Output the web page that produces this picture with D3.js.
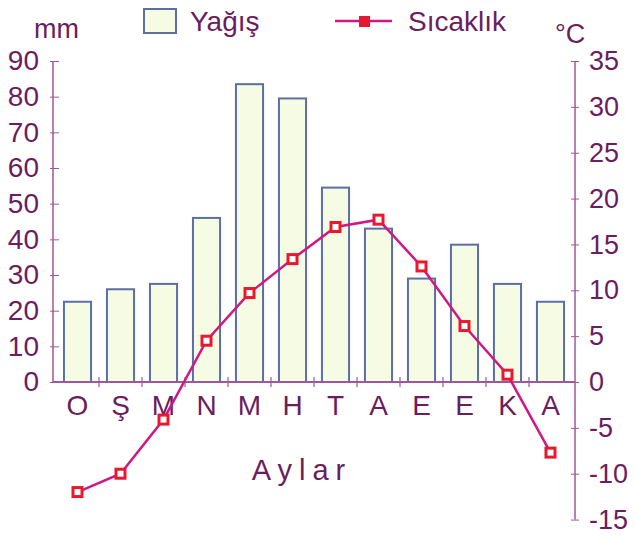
<!DOCTYPE html>
<html>
<head>
<meta charset="utf-8">
<script src="https://cdn.jsdelivr.net/npm/d3@7"></script>
<style>
  body { margin: 0; background: #fff; }
  text { font-family: "Liberation Sans", Arial, sans-serif; fill: #6b1d60; }
</style>
</head>
<body>
<svg id="chart" width="635" height="538"></svg>
<script>
var months = ["O", "Ş", "M", "N", "M", "H", "T", "A", "E", "E", "K", "A"];
var precipitation = [22.5, 26, 27.5, 46, 83.5, 79.5, 54.5, 43, 29, 38.5, 27.5, 22.5];
var temperature = [-12, -10, -4.1, 4.5, 9.7, 13.4, 16.9, 17.7, 12.6, 6.1, 0.8, -7.7];
var mmTicks = [0, 10, 20, 30, 40, 50, 60, 70, 80, 90];
var tempTicks = [-15, -10, -5, 0, 5, 10, 15, 20, 25, 30, 35];

var axis_color = "#a0579a";
var bar_fill = "#f6fce4";
var bar_stroke = "#5b6fa6";
var line_color = "#cf1883";
var marker_color = "#e8182e";

var svg = d3.select("#chart");
var left = 53, right = 575, zero_y = 382, top_y = 61;

var x = d3.scaleBand().domain(d3.range(months.length))
    .range([left, right]).paddingInner(0.37).paddingOuter(0.255);
var yMM = d3.scaleLinear().domain([0, 90]).range([zero_y, top_y]);
var yT = d3.scaleLinear().domain([0, 35]).range([zero_y, top_y]);

// bars
svg.selectAll(".bar")
    .data(precipitation)
    .enter().append("rect")
    .attr("class", "bar")
    .attr("x", function(d, i) { return x(i); })
    .attr("y", function(d) { return yMM(d); })
    .attr("width", x.bandwidth())
    .attr("height", function(d) { return zero_y - yMM(d); })
    .attr("fill", bar_fill)
    .attr("stroke", bar_stroke)
    .attr("stroke-width", 2);

// left axis
var gl = svg.append("g").attr("transform", "translate(" + left + ",0)")
    .call(d3.axisLeft(yMM).tickValues(mmTicks).tickSize(4).tickPadding(10).tickFormat(String));
gl.select(".domain").attr("stroke", axis_color).attr("stroke-width", 1.5).attr("d", "M0," + top_y + "V" + zero_y);
gl.selectAll(".tick line").attr("stroke", axis_color).attr("x1", -3).attr("x2", 6);
gl.selectAll(".tick text").style("font-size", "28px").attr("fill", "#6b1d60");

// right axis
var gr = svg.append("g").attr("transform", "translate(" + right + ",0)")
    .call(d3.axisRight(yT).tickValues(tempTicks).tickSize(4).tickPadding(10).tickFormat(String));
gr.select(".domain").attr("stroke", axis_color).attr("stroke-width", 1.5).attr("d", "M0," + yT(-15) + "V" + top_y);
gr.selectAll(".tick line").attr("stroke", axis_color).attr("x1", -4).attr("x2", 4);
gr.selectAll(".tick text").style("font-size", "27px").attr("fill", "#6b1d60");

// x axis line with ticks between months
svg.append("line")
    .attr("x1", left).attr("x2", right)
    .attr("y1", zero_y).attr("y2", zero_y)
    .attr("stroke", axis_color).attr("stroke-width", 2);
svg.selectAll(".xtick")
    .data(d3.range(1, months.length))
    .enter().append("line")
    .attr("class", "xtick")
    .attr("x1", function(d) { return x(d) - x.step() * x.paddingInner() / 2; })
    .attr("x2", function(d) { return x(d) - x.step() * x.paddingInner() / 2; })
    .attr("y1", zero_y - 5).attr("y2", zero_y + 5)
    .attr("stroke", axis_color).attr("stroke-width", 1.2);

// month labels
svg.selectAll(".month")
    .data(months)
    .enter().append("text")
    .attr("class", "month")
    .attr("x", function(d, i) { return x(i) + x.bandwidth() / 2; })
    .attr("y", 415)
    .attr("text-anchor", "middle")
    .style("font-size", "28px")
    .text(function(d) { return d; });

svg.append("text").attr("x", 302).attr("y", 480).attr("text-anchor", "middle")
    .style("font-size", "29px").style("letter-spacing", "7px").text("Aylar");

// temperature line
var line = d3.line()
    .x(function(d, i) { return x(i) + x.bandwidth() / 2; })
    .y(function(d) { return yT(d); });
svg.append("path").datum(temperature)
    .attr("d", line).attr("fill", "none")
    .attr("stroke", line_color).attr("stroke-width", 2.5);

svg.selectAll(".marker")
    .data(temperature)
    .enter().append("rect")
    .attr("class", "marker")
    .attr("x", function(d, i) { return x(i) + x.bandwidth() / 2 - 4.5; })
    .attr("y", function(d) { return yT(d) - 4.5; })
    .attr("width", 9).attr("height", 9)
    .attr("fill", "#fff").attr("stroke", marker_color).attr("stroke-width", 3);

// unit labels
svg.append("text").attr("x", 34).attr("y", 38).style("font-size", "27px").text("mm");
svg.append("text").attr("x", 555).attr("y", 43).style("font-size", "27px").text("°C");

// legend
svg.append("rect").attr("x", 144).attr("y", 9).attr("width", 32).attr("height", 24)
    .attr("fill", bar_fill).attr("stroke", bar_stroke).attr("stroke-width", 2);
svg.append("text").attr("x", 190).attr("y", 31).style("font-size", "28px").text("Yağış");
svg.append("line").attr("x1", 335).attr("x2", 392).attr("y1", 21).attr("y2", 21)
    .attr("stroke", line_color).attr("stroke-width", 2.5);
svg.append("rect").attr("x", 359).attr("y", 16).attr("width", 11).attr("height", 11)
    .attr("fill", marker_color);
svg.append("text").attr("x", 408).attr("y", 31).style("font-size", "28px").text("Sıcaklık");
</script>
</body>
</html>
